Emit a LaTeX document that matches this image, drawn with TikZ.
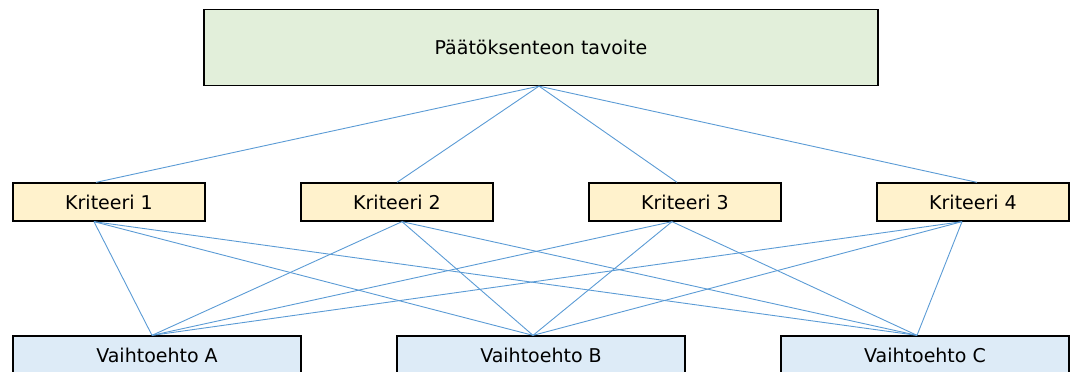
\documentclass[tikz,border=0pt]{standalone}
\usepackage{fontspec}
\setmainfont{DejaVu Sans}
\usetikzlibrary{positioning,calc}
\definecolor{goalgreen}{HTML}{E2EFDA}
\definecolor{crityellow}{HTML}{FFF2CC}
\definecolor{altblue}{HTML}{DDEBF7}
\definecolor{linkblue}{HTML}{5B9BD5}

\begin{document}
\begin{tikzpicture}[x=1pt, y=-1pt,
    box/.style={draw=black, line width=1.3pt, inner sep=0pt, font=\fontsize{19}{22}\selectfont},
    goalbox/.style={box, fill=goalgreen, minimum width=674pt, minimum height=76pt},
    critbox/.style={box, fill=crityellow, minimum width=192pt, minimum height=38pt},
    altbox/.style={box, fill=altblue, minimum width=288pt, minimum height=38pt},
    link/.style={draw=linkblue, line width=0.9pt}]
    \useasboundingbox (0,0) rectangle (1071,372);
    \clip (0,0) rectangle (1071,372);

    % goal
    \node[goalbox] (goal) at (541,47.5) {Päätöksenteon tavoite};

    % criteria
    \node[critbox] (k1) at (109,202) {Kriteeri 1};
    \node[critbox] (k2) at (397,202) {Kriteeri 2};
    \node[critbox] (k3) at (685,202) {Kriteeri 3};
    \node[critbox] (k4) at (973,202) {Kriteeri 4};

    % alternatives
    \node[altbox] (altA) at (157,355) {Vaihtoehto A};
    \node[altbox] (altB) at (541,355) {Vaihtoehto B};
    \node[altbox] (altC) at (925,355) {Vaihtoehto C};

    % connection points
    \coordinate (goalout) at ([xshift=-2pt]goal.south);
    \foreach \k/\tin/\tout in {1/-13/-15, 2/0/5, 3/-8/-13, 4/4/-11} {
        \coordinate (k\k-in) at ([xshift=\tin pt]k\k.north);
        \coordinate (k\k-out) at ([xshift=\tout pt]k\k.south);
    }
    \foreach \a/\ain in {A/-5, B/-8, C/-8}
        \coordinate (alt\a-in) at ([xshift=\ain pt]alt\a.north);

    % links
    \foreach \k in {1,...,4}
        \draw[link] (goalout) -- (k\k-in);
    \foreach \k in {1,...,4}
        \foreach \a in {A,B,C}
            \draw[link] (k\k-out) -- (alt\a-in);
\end{tikzpicture}
\end{document}
